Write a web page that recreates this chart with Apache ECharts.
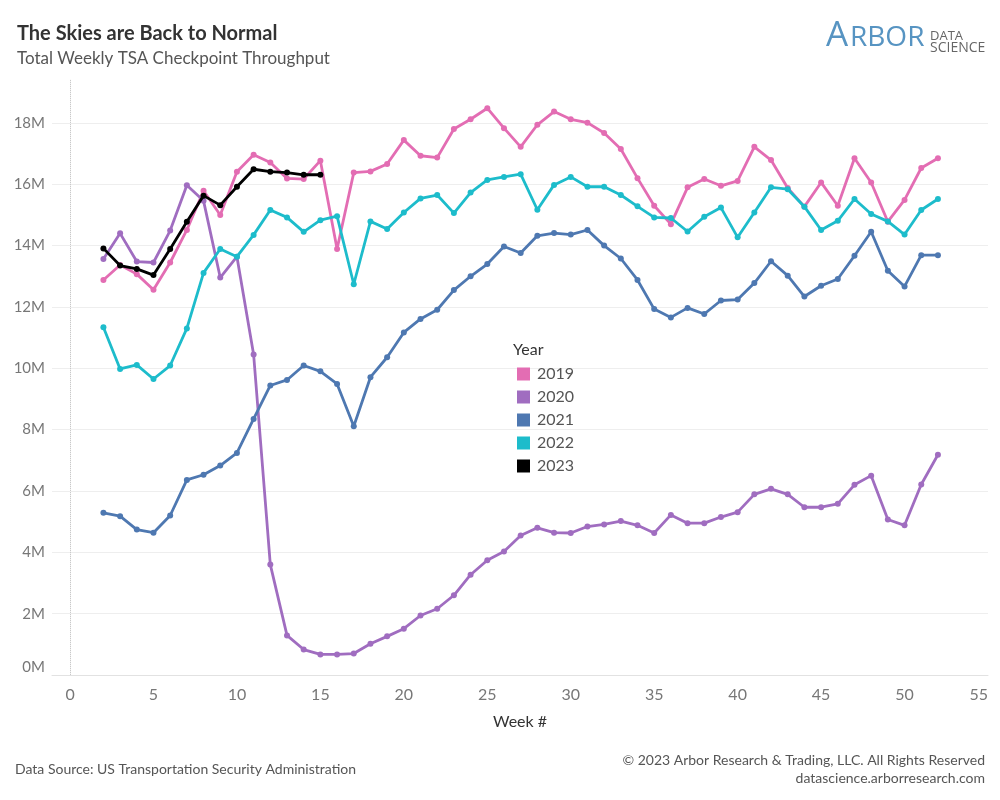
<!DOCTYPE html>
<html><head><meta charset="utf-8">
<script src="https://cdn.jsdelivr.net/npm/echarts@6/dist/echarts.min.js"></script>
<style>html,body{margin:0;padding:0;background:#fff}#c{width:1000px;height:800px}</style>
</head><body><div id="c"></div>
<script>
// ---- data (values in millions of passengers) ----
const years = ['2019', '2020', '2021', '2022', '2023'];
const weeksFull = [2,3,4,5,6,7,8,9,10,11,12,13,14,15,16,17,18,19,20,21,22,23,24,25,26,27,28,29,30,31,32,33,34,35,36,37,38,39,40,41,42,43,44,45,46,47,48,49,50,51,52];
const weeks2023 = [2,3,4,5,6,7,8,9,10,11,12,13,14,15];
const v2019 = [12.88,13.37,13.07,12.56,13.45,14.51,15.79,15.0,16.41,16.96,16.71,16.19,16.17,16.77,13.89,16.38,16.42,16.66,17.44,16.93,16.87,17.80,18.12,18.48,17.83,17.22,17.94,18.37,18.12,18.01,17.67,17.15,16.20,15.30,14.70,15.90,16.17,15.95,16.11,17.22,16.79,15.88,15.27,16.06,15.30,16.85,16.06,14.78,15.49,16.53,16.85];
const v2020 = [13.56,14.40,13.48,13.45,14.49,15.97,15.46,12.96,13.64,10.45,3.60,1.29,0.83,0.67,0.67,0.70,1.02,1.26,1.51,1.94,2.16,2.60,3.27,3.74,4.03,4.55,4.80,4.64,4.63,4.84,4.91,5.02,4.88,4.63,5.22,4.95,4.95,5.15,5.31,5.89,6.07,5.89,5.47,5.47,5.58,6.20,6.50,5.07,4.88,6.21,7.18];
const v2021 = [5.29,5.18,4.74,4.64,5.20,6.36,6.53,6.83,7.24,8.35,9.44,9.62,10.09,9.90,9.49,8.11,9.71,10.36,11.17,11.61,11.91,12.55,13.00,13.40,13.97,13.76,14.32,14.41,14.36,14.51,14.00,13.58,12.88,11.93,11.66,11.97,11.77,12.21,12.24,12.78,13.49,13.02,12.34,12.69,12.91,13.67,14.45,13.18,12.67,13.69,13.69];
const v2022 = [11.34,9.98,10.11,9.65,10.09,11.30,13.11,13.89,13.64,14.35,15.16,14.92,14.45,14.83,14.96,12.74,14.79,14.54,15.08,15.54,15.65,15.06,15.73,16.14,16.24,16.33,15.17,15.98,16.24,15.92,15.92,15.65,15.28,14.92,14.90,14.46,14.94,15.24,14.27,15.08,15.90,15.84,15.27,14.51,14.81,15.52,15.03,14.79,14.36,15.16,15.52];
const v2023 = [13.91,13.35,13.24,13.04,13.89,14.78,15.63,15.32,15.92,16.49,16.41,16.38,16.31,16.31];
const yTicks = [0,2,4,6,8,10,12,14,16,18];
const xTicks = [0,5,10,15,20,25,30,35,40,45,50,55];

const colors = ['#e36db3', '#a06dc0', '#4e78b1', '#1dbccb', '#000000'];
const FONT = 'Lato, "Open Sans", sans-serif';

const pair = (w, v) => w.map((x, i) => [x, v[i]]);
const seriesData = [pair(weeksFull, v2019), pair(weeksFull, v2020), pair(weeksFull, v2021), pair(weeksFull, v2022), pair(weeks2023, v2023)];

const chart = echarts.init(document.getElementById('c'), null, {renderer: 'canvas'});

const series = years.map((y, i) => ({
  name: y,
  type: 'line',
  data: seriesData[i],
  symbol: 'circle',
  symbolSize: 6,
  showSymbol: true,
  lineStyle: {width: 2.8, color: colors[i]},
  itemStyle: {color: colors[i]},
  emphasis: {disabled: true},
  z: 3 + i,
  animation: false
}));
series[0].markLine = {
  silent: true, symbol: ['none', 'none'], label: {show: false},
  lineStyle: {type: 'dotted', color: '#c9c9c9', width: 1},
  data: [{xAxis: 0}], animation: false
};

chart.setOption({
  animation: false,
  backgroundColor: '#ffffff',
  color: colors,
  textStyle: {fontFamily: FONT},
  title: [
    {text: 'The Skies are Back to Normal', left: 17, top: 24, padding: 0,
     textStyle: {fontFamily: FONT, fontSize: 20, fontWeight: 'bold', color: '#333'}},
    {text: 'Total Weekly TSA Checkpoint Throughput', left: 17, top: 50, padding: 0,
     textStyle: {fontFamily: FONT, fontSize: 17, fontWeight: 'normal', color: '#555'}},
    {text: 'Year', left: 513, top: 342, padding: 0,
     textStyle: {fontFamily: FONT, fontSize: 16, fontWeight: 'normal', color: '#333'}}
  ],
  legend: {
    data: years, orient: 'vertical', left: 517, top: 366, padding: 0,
    icon: 'rect', itemWidth: 13, itemHeight: 13, itemGap: 7,
    selectedMode: false,
    textStyle: {fontFamily: FONT, fontSize: 16, color: '#555', lineHeight: 13, padding: [0, 0, 0, 2]}
  },
  grid: {left: 52, right: 12, top: 80, bottom: 125, outerBoundsMode: 'none', containLabel: false},
  xAxis: {
    type: 'value', min: -1.08, max: 55, splitNumber: 11,
    axisLine: {show: true, lineStyle: {color: '#e2e2e2', width: 1}},
    axisTick: {show: false},
    splitLine: {show: false},
    axisLabel: {
      formatter: v => xTicks.indexOf(v) >= 0 ? String(v) : '',
      color: '#777', fontSize: 16, fontFamily: FONT, margin: 12,
      showMinLabel: false, alignMaxLabel: 'right'
    },
    name: 'Week #', nameLocation: 'middle', nameGap: 39,
    nameTextStyle: {fontFamily: FONT, fontSize: 16, color: '#333'}
  },
  yAxis: {
    type: 'value', min: 0, max: 19.4, interval: 2,
    axisLine: {show: true, lineStyle: {color: '#f0f0f0'}},
    axisTick: {show: false},
    splitLine: {show: true, showMaxLine: false, lineStyle: {color: '#eeeeee', width: 1}},
    axisLabel: {
      formatter: v => yTicks.indexOf(v) >= 0 ? v + 'M' : '',
      color: '#777', fontSize: 15, fontFamily: FONT, margin: 7,
      showMaxLabel: false, verticalAlignMinLabel: 'bottom'
    }
  },
  graphic: [
    {type: 'text', x: 826, y: 54, style: {text: 'A', font: '400 35px "Open Sans", sans-serif', fill: '#5794c2', textVerticalAlign: 'bottom'}},
    {type: 'text', x: 850, y: 52, style: {text: 'RBOR', font: '400 28px "Open Sans", sans-serif', fill: '#5794c2', textVerticalAlign: 'bottom'}},
    {type: 'text', x: 930, y: 36, style: {text: 'DATA', font: '400 13px "Open Sans", sans-serif', fill: '#666', textVerticalAlign: 'middle'}},
    {type: 'text', x: 930, y: 48, style: {text: 'SCIENCE', font: '400 14px "Open Sans", sans-serif', fill: '#666', textVerticalAlign: 'middle'}},
    {type: 'text', x: 15, y: 769, style: {text: 'Data Source: US Transportation Security Administration', font: '14px ' + FONT, fill: '#555', textVerticalAlign: 'middle'}},
    {type: 'text', x: 985, y: 760, style: {text: '\u00A9 2023 Arbor Research & Trading, LLC. All Rights Reserved', font: '14px ' + FONT, fill: '#555', textAlign: 'right', textVerticalAlign: 'middle'}},
    {type: 'text', x: 985, y: 778, style: {text: 'datascience.arborresearch.com', font: '14px ' + FONT, fill: '#555', textAlign: 'right', textVerticalAlign: 'middle'}}
  ],
  series: series
});
</script>
</body></html>
